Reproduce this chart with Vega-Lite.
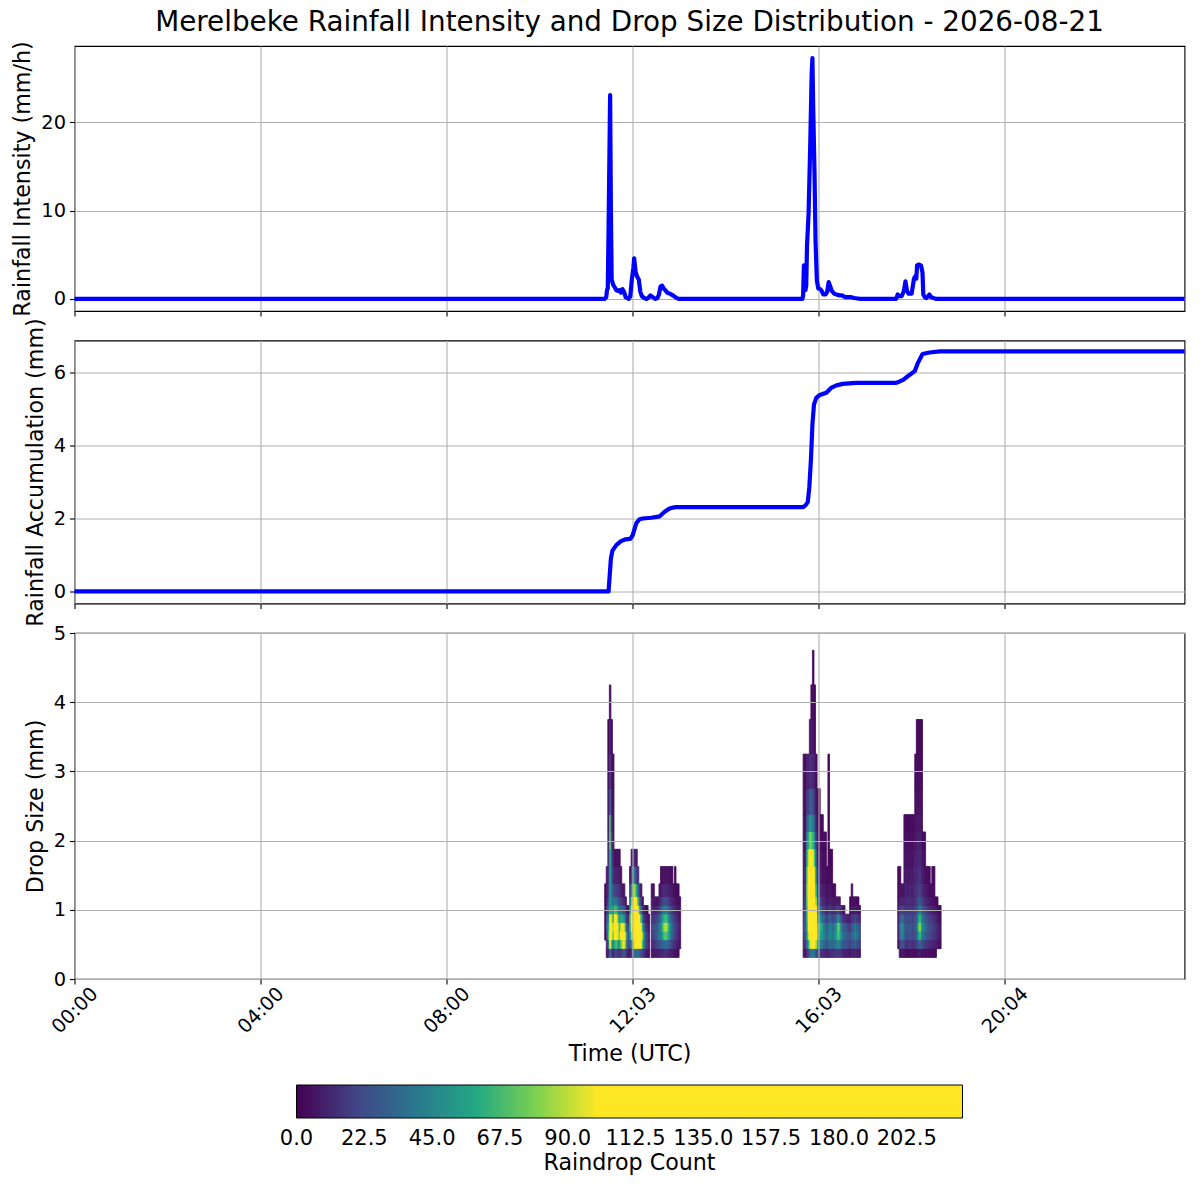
{
  "$schema": "https://vega.github.io/schema/vega-lite/v6.json",
  "padding": {"left": 10.5, "top": 8, "right": 5, "bottom": 5},
  "bounds": "flush",
  "spacing": 29.5,
  "config": {
    "font": "DejaVu Sans",
    "view": {"stroke": "#000000", "strokeWidth": 1.1},
    "axis": {
      "domain": false,
      "grid": true,
      "gridColor": "#b0b0b0",
      "gridWidth": 1.1,
      "tickColor": "#000000",
      "tickSize": 5,
      "tickWidth": 1.1,
      "labelColor": "#000000",
      "labelFontSize": 19.4,
      "labelPadding": 4,
      "titleColor": "#000000",
      "titleFontSize": 22.2,
      "titleFontWeight": "normal",
      "titlePadding": 6
    },
    "legend": {"padding": 0}
  },
  "datasets": {
    "rain": [
      {"t": 0, "r": 0}, {"t": 684, "r": 0}, {"t": 686, "r": 0.2}, {"t": 687, "r": 1.0}, {"t": 688, "r": 1.2},
      {"t": 689, "r": 8}, {"t": 691, "r": 23.1}, {"t": 692, "r": 10}, {"t": 693, "r": 2.2}, {"t": 695, "r": 1.6},
      {"t": 697, "r": 1.3}, {"t": 699, "r": 1.0}, {"t": 701, "r": 0.9}, {"t": 703, "r": 1.0}, {"t": 705, "r": 0.7},
      {"t": 707, "r": 1.1}, {"t": 709, "r": 0.8}, {"t": 711, "r": 0.2}, {"t": 713, "r": 0.1}, {"t": 715, "r": 0},
      {"t": 717, "r": 0.3}, {"t": 719, "r": 2.2}, {"t": 721, "r": 3.5}, {"t": 722, "r": 4.6}, {"t": 724, "r": 3.0},
      {"t": 726, "r": 2.5}, {"t": 728, "r": 2.2}, {"t": 730, "r": 0.8}, {"t": 732, "r": 0.3}, {"t": 735, "r": 0.1},
      {"t": 738, "r": 0}, {"t": 740, "r": 0.1}, {"t": 743, "r": 0.4}, {"t": 746, "r": 0.2}, {"t": 749, "r": 0},
      {"t": 752, "r": 0.1}, {"t": 754, "r": 0.5}, {"t": 756, "r": 1.4}, {"t": 758, "r": 1.5}, {"t": 760, "r": 1.2},
      {"t": 762, "r": 1.0}, {"t": 765, "r": 0.7}, {"t": 768, "r": 0.6}, {"t": 772, "r": 0.4}, {"t": 775, "r": 0.2},
      {"t": 778, "r": 0.05}, {"t": 780, "r": 0}, {"t": 939, "r": 0}, {"t": 940, "r": 0.4}, {"t": 941, "r": 3.8},
      {"t": 942, "r": 3.8}, {"t": 943, "r": 1.0}, {"t": 944, "r": 1.5}, {"t": 945, "r": 6}, {"t": 947, "r": 9.6},
      {"t": 949, "r": 16.8}, {"t": 951, "r": 25.5}, {"t": 952, "r": 27.3}, {"t": 953, "r": 21.7}, {"t": 954.7, "r": 14.2},
      {"t": 956, "r": 6.6}, {"t": 957.7, "r": 2.1}, {"t": 959.5, "r": 1.2}, {"t": 962, "r": 1.1}, {"t": 964, "r": 0.9},
      {"t": 966, "r": 0.5}, {"t": 969, "r": 0.5}, {"t": 971, "r": 0.8}, {"t": 973, "r": 1.9}, {"t": 975, "r": 1.4},
      {"t": 977, "r": 0.9}, {"t": 980, "r": 0.6}, {"t": 983, "r": 0.5}, {"t": 987, "r": 0.4}, {"t": 990, "r": 0.4},
      {"t": 994, "r": 0.2}, {"t": 998, "r": 0.2}, {"t": 1002, "r": 0.2}, {"t": 1006, "r": 0.1}, {"t": 1010, "r": 0.05},
      {"t": 1014, "r": 0}, {"t": 1060, "r": 0}, {"t": 1062, "r": 0.5}, {"t": 1064, "r": 0.3}, {"t": 1067, "r": 0.3},
      {"t": 1070, "r": 0.9}, {"t": 1072, "r": 2.0}, {"t": 1074, "r": 0.9}, {"t": 1076, "r": 0.6}, {"t": 1080, "r": 0.6},
      {"t": 1083, "r": 2.3}, {"t": 1085, "r": 2.6}, {"t": 1086, "r": 2.3}, {"t": 1087, "r": 3.8}, {"t": 1089, "r": 3.9},
      {"t": 1092, "r": 3.8}, {"t": 1094, "r": 3.0}, {"t": 1095, "r": 0.5}, {"t": 1097, "r": 0.2}, {"t": 1099, "r": 0.1},
      {"t": 1101, "r": 0.3}, {"t": 1103, "r": 0.5}, {"t": 1105, "r": 0.2}, {"t": 1108, "r": 0.1}, {"t": 1112, "r": 0},
      {"t": 1432, "r": 0}
    ],
    "acc": [
      {"t": 0, "a": 0}, {"t": 689, "a": 0}, {"t": 690, "a": 0.3}, {"t": 692, "a": 0.9}, {"t": 694, "a": 1.12},
      {"t": 699, "a": 1.27}, {"t": 705, "a": 1.38}, {"t": 711, "a": 1.43}, {"t": 717, "a": 1.44}, {"t": 720, "a": 1.54},
      {"t": 723, "a": 1.75}, {"t": 725, "a": 1.88}, {"t": 729, "a": 1.98}, {"t": 733, "a": 2.0}, {"t": 744, "a": 2.02},
      {"t": 755, "a": 2.06}, {"t": 761, "a": 2.18}, {"t": 767, "a": 2.27}, {"t": 772, "a": 2.3}, {"t": 776, "a": 2.31},
      {"t": 940, "a": 2.31}, {"t": 943, "a": 2.36}, {"t": 946, "a": 2.45}, {"t": 948, "a": 2.86}, {"t": 950, "a": 3.59},
      {"t": 952, "a": 4.58}, {"t": 954, "a": 5.13}, {"t": 957, "a": 5.31}, {"t": 961, "a": 5.38}, {"t": 966, "a": 5.42},
      {"t": 970, "a": 5.45}, {"t": 976, "a": 5.58}, {"t": 983, "a": 5.65}, {"t": 991, "a": 5.69}, {"t": 1008, "a": 5.72},
      {"t": 1060, "a": 5.72}, {"t": 1064, "a": 5.75}, {"t": 1069, "a": 5.8}, {"t": 1075, "a": 5.9}, {"t": 1084, "a": 6.04},
      {"t": 1088, "a": 6.26}, {"t": 1094, "a": 6.51}, {"t": 1103, "a": 6.55}, {"t": 1116, "a": 6.58}, {"t": 1432, "a": 6.58}
    ],
    "classes": [
      {"k": 1, "lo": 0.312, "hi": 0.437}, {"k": 2, "lo": 0.437, "hi": 0.562}, {"k": 3, "lo": 0.562, "hi": 0.687},
      {"k": 4, "lo": 0.687, "hi": 0.812}, {"k": 5, "lo": 0.812, "hi": 0.937}, {"k": 6, "lo": 0.937, "hi": 1.062},
      {"k": 7, "lo": 1.062, "hi": 1.187}, {"k": 8, "lo": 1.187, "hi": 1.375}, {"k": 9, "lo": 1.375, "hi": 1.625},
      {"k": 10, "lo": 1.625, "hi": 1.875}, {"k": 11, "lo": 1.875, "hi": 2.125}, {"k": 12, "lo": 2.125, "hi": 2.375},
      {"k": 13, "lo": 2.375, "hi": 2.75}, {"k": 14, "lo": 2.75, "hi": 3.25}, {"k": 15, "lo": 3.25, "hi": 3.75},
      {"k": 16, "lo": 3.75, "hi": 4.25}, {"k": 17, "lo": 4.25, "hi": 4.75}
    ],
    "dsd": [
      {"t":684,"k":3,"c":3},{"t":684,"k":4,"c":4},{"t":684,"k":5,"c":4},{"t":684,"k":6,"c":3},{"t":684,"k":7,"c":2},{"t":684,"k":8,"c":2},
      {"t":686,"k":1,"c":3},{"t":686,"k":2,"c":8},{"t":686,"k":3,"c":18},{"t":686,"k":4,"c":30},{"t":686,"k":5,"c":25},{"t":686,"k":6,"c":15},{"t":686,"k":7,"c":8},{"t":686,"k":8,"c":5},{"t":686,"k":9,"c":3},
      {"t":688,"k":1,"c":10},{"t":688,"k":2,"c":40},{"t":688,"k":3,"c":70},{"t":688,"k":4,"c":60},{"t":688,"k":5,"c":45},{"t":688,"k":6,"c":35},{"t":688,"k":7,"c":25},{"t":688,"k":8,"c":20},{"t":688,"k":9,"c":15},{"t":688,"k":10,"c":12},{"t":688,"k":11,"c":10},{"t":688,"k":12,"c":8},{"t":688,"k":13,"c":6},{"t":688,"k":14,"c":4},{"t":688,"k":15,"c":3},
      {"t":690,"k":1,"c":30},{"t":690,"k":2,"c":100},{"t":690,"k":3,"c":130},{"t":690,"k":4,"c":120},{"t":690,"k":5,"c":100},{"t":690,"k":6,"c":55},{"t":690,"k":7,"c":50},{"t":690,"k":8,"c":50},{"t":690,"k":9,"c":55},{"t":690,"k":10,"c":60},{"t":690,"k":11,"c":75},{"t":690,"k":12,"c":70},{"t":690,"k":13,"c":30},{"t":690,"k":14,"c":15},{"t":690,"k":15,"c":8},{"t":690,"k":16,"c":3},
      {"t":692,"k":1,"c":20},{"t":692,"k":2,"c":70},{"t":692,"k":3,"c":100},{"t":692,"k":4,"c":110},{"t":692,"k":5,"c":90},{"t":692,"k":6,"c":60},{"t":692,"k":7,"c":45},{"t":692,"k":8,"c":40},{"t":692,"k":9,"c":35},{"t":692,"k":10,"c":30},{"t":692,"k":11,"c":25},{"t":692,"k":12,"c":15},{"t":692,"k":13,"c":10},{"t":692,"k":14,"c":6},{"t":692,"k":15,"c":3},
      {"t":694,"k":1,"c":10},{"t":694,"k":2,"c":45},{"t":694,"k":3,"c":80},{"t":694,"k":4,"c":90},{"t":694,"k":5,"c":70},{"t":694,"k":6,"c":50},{"t":694,"k":7,"c":35},{"t":694,"k":8,"c":25},{"t":694,"k":9,"c":15},{"t":694,"k":10,"c":10},{"t":694,"k":11,"c":6},{"t":694,"k":12,"c":4},{"t":694,"k":13,"c":3},{"t":694,"k":14,"c":2},
      {"t":696,"k":1,"c":15},{"t":696,"k":2,"c":60},{"t":696,"k":3,"c":110},{"t":696,"k":4,"c":130},{"t":696,"k":5,"c":105},{"t":696,"k":6,"c":70},{"t":696,"k":7,"c":40},{"t":696,"k":8,"c":20},{"t":696,"k":9,"c":10},{"t":696,"k":10,"c":4},
      {"t":698,"k":1,"c":20},{"t":698,"k":2,"c":70},{"t":698,"k":3,"c":120},{"t":698,"k":4,"c":140},{"t":698,"k":5,"c":110},{"t":698,"k":6,"c":65},{"t":698,"k":7,"c":35},{"t":698,"k":8,"c":18},{"t":698,"k":9,"c":8},{"t":698,"k":10,"c":4},
      {"t":700,"k":1,"c":15},{"t":700,"k":2,"c":55},{"t":700,"k":3,"c":95},{"t":700,"k":4,"c":105},{"t":700,"k":5,"c":80},{"t":700,"k":6,"c":50},{"t":700,"k":7,"c":30},{"t":700,"k":8,"c":15},{"t":700,"k":9,"c":8},{"t":700,"k":10,"c":3},
      {"t":702,"k":1,"c":12},{"t":702,"k":2,"c":50},{"t":702,"k":3,"c":80},{"t":702,"k":4,"c":70},{"t":702,"k":5,"c":50},{"t":702,"k":6,"c":35},{"t":702,"k":7,"c":20},{"t":702,"k":8,"c":12},{"t":702,"k":9,"c":6},{"t":702,"k":10,"c":3},
      {"t":704,"k":1,"c":15},{"t":704,"k":2,"c":70},{"t":704,"k":3,"c":100},{"t":704,"k":4,"c":90},{"t":704,"k":5,"c":60},{"t":704,"k":6,"c":35},{"t":704,"k":7,"c":18},{"t":704,"k":8,"c":8},{"t":704,"k":9,"c":3},
      {"t":706,"k":1,"c":20},{"t":706,"k":2,"c":90},{"t":706,"k":3,"c":120},{"t":706,"k":4,"c":100},{"t":706,"k":5,"c":60},{"t":706,"k":6,"c":30},{"t":706,"k":7,"c":12},{"t":706,"k":8,"c":5},
      {"t":708,"k":1,"c":25},{"t":708,"k":2,"c":100},{"t":708,"k":3,"c":125},{"t":708,"k":4,"c":95},{"t":708,"k":5,"c":50},{"t":708,"k":6,"c":25},{"t":708,"k":7,"c":10},{"t":708,"k":8,"c":4},
      {"t":710,"k":1,"c":20},{"t":710,"k":2,"c":75},{"t":710,"k":3,"c":90},{"t":710,"k":4,"c":60},{"t":710,"k":5,"c":30},{"t":710,"k":6,"c":15},{"t":710,"k":7,"c":5},
      {"t":712,"k":1,"c":10},{"t":712,"k":2,"c":35},{"t":712,"k":3,"c":40},{"t":712,"k":4,"c":25},{"t":712,"k":5,"c":12},{"t":712,"k":6,"c":5},
      {"t":714,"k":1,"c":5},{"t":714,"k":2,"c":20},{"t":714,"k":3,"c":25},{"t":714,"k":4,"c":18},{"t":714,"k":5,"c":10},{"t":714,"k":6,"c":4},
      {"t":716,"k":1,"c":8},{"t":716,"k":2,"c":30},{"t":716,"k":3,"c":55},{"t":716,"k":4,"c":70},{"t":716,"k":5,"c":75},{"t":716,"k":6,"c":60},{"t":716,"k":7,"c":40},{"t":716,"k":8,"c":20},{"t":716,"k":9,"c":6},
      {"t":718,"k":1,"c":15},{"t":718,"k":2,"c":50},{"t":718,"k":3,"c":85},{"t":718,"k":4,"c":100},{"t":718,"k":5,"c":105},{"t":718,"k":6,"c":95},{"t":718,"k":7,"c":80},{"t":718,"k":8,"c":55},{"t":718,"k":9,"c":25},{"t":718,"k":10,"c":8},
      {"t":720,"k":1,"c":25},{"t":720,"k":2,"c":80},{"t":720,"k":3,"c":120},{"t":720,"k":4,"c":140},{"t":720,"k":5,"c":150},{"t":720,"k":6,"c":140},{"t":720,"k":7,"c":115},{"t":720,"k":8,"c":80},{"t":720,"k":9,"c":40},{"t":720,"k":10,"c":12},
      {"t":722,"k":1,"c":30},{"t":722,"k":2,"c":100},{"t":722,"k":3,"c":160},{"t":722,"k":4,"c":190},{"t":722,"k":5,"c":200},{"t":722,"k":6,"c":170},{"t":722,"k":7,"c":130},{"t":722,"k":8,"c":85},{"t":722,"k":9,"c":35},{"t":722,"k":10,"c":10},
      {"t":724,"k":1,"c":35},{"t":724,"k":2,"c":110},{"t":724,"k":3,"c":180},{"t":724,"k":4,"c":210},{"t":724,"k":5,"c":200},{"t":724,"k":6,"c":150},{"t":724,"k":7,"c":105},{"t":724,"k":8,"c":60},{"t":724,"k":9,"c":20},{"t":724,"k":10,"c":5},
      {"t":726,"k":1,"c":35},{"t":726,"k":2,"c":115},{"t":726,"k":3,"c":175},{"t":726,"k":4,"c":190},{"t":726,"k":5,"c":160},{"t":726,"k":6,"c":110},{"t":726,"k":7,"c":70},{"t":726,"k":8,"c":35},{"t":726,"k":9,"c":10},
      {"t":728,"k":1,"c":30},{"t":728,"k":2,"c":110},{"t":728,"k":3,"c":160},{"t":728,"k":4,"c":150},{"t":728,"k":5,"c":110},{"t":728,"k":6,"c":65},{"t":728,"k":7,"c":35},{"t":728,"k":8,"c":15},
      {"t":730,"k":1,"c":25},{"t":730,"k":2,"c":100},{"t":730,"k":3,"c":130},{"t":730,"k":4,"c":110},{"t":730,"k":5,"c":70},{"t":730,"k":6,"c":35},{"t":730,"k":7,"c":15},{"t":730,"k":8,"c":5},
      {"t":732,"k":1,"c":20},{"t":732,"k":2,"c":70},{"t":732,"k":3,"c":85},{"t":732,"k":4,"c":60},{"t":732,"k":5,"c":35},{"t":732,"k":6,"c":15},{"t":732,"k":7,"c":5},
      {"t":734,"k":1,"c":12},{"t":734,"k":2,"c":40},{"t":734,"k":3,"c":45},{"t":734,"k":4,"c":30},{"t":734,"k":5,"c":15},{"t":734,"k":6,"c":6},
      {"t":736,"k":1,"c":8},{"t":736,"k":2,"c":25},{"t":736,"k":3,"c":25},{"t":736,"k":4,"c":15},{"t":736,"k":5,"c":8},{"t":736,"k":6,"c":3},
      {"t":738,"k":1,"c":5},{"t":738,"k":2,"c":15},{"t":738,"k":3,"c":15},{"t":738,"k":4,"c":10},{"t":738,"k":5,"c":5},{"t":738,"k":6,"c":2},
      {"t":740,"k":1,"c":3},{"t":740,"k":2,"c":8},{"t":740,"k":3,"c":8},{"t":740,"k":4,"c":5},{"t":740,"k":5,"c":3},
      {"t":744,"k":1,"c":4},{"t":744,"k":2,"c":10},{"t":744,"k":3,"c":15},{"t":744,"k":4,"c":18},{"t":744,"k":5,"c":14},{"t":744,"k":6,"c":10},{"t":744,"k":7,"c":6},{"t":744,"k":8,"c":3},
      {"t":746,"k":1,"c":5},{"t":746,"k":2,"c":12},{"t":746,"k":3,"c":18},{"t":746,"k":4,"c":20},{"t":746,"k":5,"c":16},{"t":746,"k":6,"c":10},{"t":746,"k":7,"c":6},{"t":746,"k":8,"c":3},
      {"t":748,"k":1,"c":5},{"t":748,"k":2,"c":14},{"t":748,"k":3,"c":22},{"t":748,"k":4,"c":22},{"t":748,"k":5,"c":15},{"t":748,"k":6,"c":8},{"t":748,"k":7,"c":4},
      {"t":750,"k":1,"c":6},{"t":750,"k":2,"c":18},{"t":750,"k":3,"c":28},{"t":750,"k":4,"c":26},{"t":750,"k":5,"c":18},{"t":750,"k":6,"c":10},{"t":750,"k":7,"c":4},
      {"t":752,"k":1,"c":8},{"t":752,"k":2,"c":22},{"t":752,"k":3,"c":35},{"t":752,"k":4,"c":32},{"t":752,"k":5,"c":22},{"t":752,"k":6,"c":12},{"t":752,"k":7,"c":5},
      {"t":754,"k":1,"c":8},{"t":754,"k":2,"c":25},{"t":754,"k":3,"c":40},{"t":754,"k":4,"c":40},{"t":754,"k":5,"c":30},{"t":754,"k":6,"c":18},{"t":754,"k":7,"c":9},{"t":754,"k":8,"c":4},
      {"t":756,"k":1,"c":10},{"t":756,"k":2,"c":28},{"t":756,"k":3,"c":45},{"t":756,"k":4,"c":50},{"t":756,"k":5,"c":40},{"t":756,"k":6,"c":26},{"t":756,"k":7,"c":14},{"t":756,"k":8,"c":7},{"t":756,"k":9,"c":3},
      {"t":758,"k":1,"c":10},{"t":758,"k":2,"c":30},{"t":758,"k":3,"c":55},{"t":758,"k":4,"c":65},{"t":758,"k":5,"c":50},{"t":758,"k":6,"c":32},{"t":758,"k":7,"c":18},{"t":758,"k":8,"c":9},{"t":758,"k":9,"c":4},
      {"t":760,"k":1,"c":12},{"t":760,"k":2,"c":35},{"t":760,"k":3,"c":70},{"t":760,"k":4,"c":85},{"t":760,"k":5,"c":65},{"t":760,"k":6,"c":40},{"t":760,"k":7,"c":22},{"t":760,"k":8,"c":11},{"t":760,"k":9,"c":4},
      {"t":762,"k":1,"c":12},{"t":762,"k":2,"c":35},{"t":762,"k":3,"c":75},{"t":762,"k":4,"c":90},{"t":762,"k":5,"c":70},{"t":762,"k":6,"c":42},{"t":762,"k":7,"c":22},{"t":762,"k":8,"c":10},{"t":762,"k":9,"c":4},
      {"t":764,"k":1,"c":10},{"t":764,"k":2,"c":32},{"t":764,"k":3,"c":65},{"t":764,"k":4,"c":80},{"t":764,"k":5,"c":60},{"t":764,"k":6,"c":36},{"t":764,"k":7,"c":18},{"t":764,"k":8,"c":9},{"t":764,"k":9,"c":4},
      {"t":766,"k":1,"c":8},{"t":766,"k":2,"c":28},{"t":766,"k":3,"c":55},{"t":766,"k":4,"c":60},{"t":766,"k":5,"c":45},{"t":766,"k":6,"c":28},{"t":766,"k":7,"c":15},{"t":766,"k":8,"c":7},{"t":766,"k":9,"c":3},
      {"t":768,"k":1,"c":7},{"t":768,"k":2,"c":22},{"t":768,"k":3,"c":40},{"t":768,"k":4,"c":45},{"t":768,"k":5,"c":34},{"t":768,"k":6,"c":22},{"t":768,"k":7,"c":12},{"t":768,"k":8,"c":6},{"t":768,"k":9,"c":3},
      {"t":770,"k":1,"c":6},{"t":770,"k":2,"c":18},{"t":770,"k":3,"c":30},{"t":770,"k":4,"c":32},{"t":770,"k":5,"c":25},{"t":770,"k":6,"c":16},{"t":770,"k":7,"c":9},{"t":770,"k":8,"c":5},{"t":770,"k":9,"c":2},
      {"t":772,"k":1,"c":5},{"t":772,"k":2,"c":14},{"t":772,"k":3,"c":22},{"t":772,"k":4,"c":24},{"t":772,"k":5,"c":18},{"t":772,"k":6,"c":12},{"t":772,"k":7,"c":7},{"t":772,"k":8,"c":3},
      {"t":774,"k":1,"c":4},{"t":774,"k":2,"c":12},{"t":774,"k":3,"c":18},{"t":774,"k":4,"c":20},{"t":774,"k":5,"c":16},{"t":774,"k":6,"c":10},{"t":774,"k":7,"c":6},{"t":774,"k":8,"c":3},{"t":774,"k":9,"c":2},
      {"t":776,"k":1,"c":3},{"t":776,"k":2,"c":9},{"t":776,"k":3,"c":14},{"t":776,"k":4,"c":15},{"t":776,"k":5,"c":12},{"t":776,"k":6,"c":8},{"t":776,"k":7,"c":4},{"t":776,"k":8,"c":2},
      {"t":778,"k":1,"c":2},{"t":778,"k":2,"c":6},{"t":778,"k":3,"c":10},{"t":778,"k":4,"c":11},{"t":778,"k":5,"c":8},{"t":778,"k":6,"c":5},{"t":778,"k":7,"c":3},{"t":778,"k":8,"c":2},
      {"t":780,"k":2,"c":3},{"t":780,"k":3,"c":5},{"t":780,"k":4,"c":6},{"t":780,"k":5,"c":4},{"t":780,"k":6,"c":3},{"t":780,"k":7,"c":2},
      {"t":940,"k":1,"c":3},{"t":940,"k":2,"c":8},{"t":940,"k":3,"c":12},{"t":940,"k":4,"c":14},{"t":940,"k":5,"c":12},{"t":940,"k":6,"c":10},{"t":940,"k":7,"c":8},{"t":940,"k":8,"c":6},{"t":940,"k":9,"c":5},{"t":940,"k":10,"c":4},{"t":940,"k":11,"c":3},{"t":940,"k":12,"c":3},{"t":940,"k":13,"c":2},{"t":940,"k":14,"c":2},
      {"t":942,"k":1,"c":6},{"t":942,"k":2,"c":18},{"t":942,"k":3,"c":28},{"t":942,"k":4,"c":30},{"t":942,"k":5,"c":28},{"t":942,"k":6,"c":24},{"t":942,"k":7,"c":20},{"t":942,"k":8,"c":16},{"t":942,"k":9,"c":12},{"t":942,"k":10,"c":9},{"t":942,"k":11,"c":7},{"t":942,"k":12,"c":5},{"t":942,"k":13,"c":4},{"t":942,"k":14,"c":3},
      {"t":944,"k":1,"c":10},{"t":944,"k":2,"c":30},{"t":944,"k":3,"c":45},{"t":944,"k":4,"c":55},{"t":944,"k":5,"c":60},{"t":944,"k":6,"c":65},{"t":944,"k":7,"c":70},{"t":944,"k":8,"c":75},{"t":944,"k":9,"c":70},{"t":944,"k":10,"c":55},{"t":944,"k":11,"c":40},{"t":944,"k":12,"c":25},{"t":944,"k":13,"c":14},{"t":944,"k":14,"c":7},
      {"t":946,"k":1,"c":20},{"t":946,"k":2,"c":60},{"t":946,"k":3,"c":90},{"t":946,"k":4,"c":110},{"t":946,"k":5,"c":125},{"t":946,"k":6,"c":130},{"t":946,"k":7,"c":135},{"t":946,"k":8,"c":130},{"t":946,"k":9,"c":115},{"t":946,"k":10,"c":90},{"t":946,"k":11,"c":60},{"t":946,"k":12,"c":35},{"t":946,"k":13,"c":18},{"t":946,"k":14,"c":8},
      {"t":948,"k":1,"c":30},{"t":948,"k":2,"c":90},{"t":948,"k":3,"c":130},{"t":948,"k":4,"c":160},{"t":948,"k":5,"c":180},{"t":948,"k":6,"c":190},{"t":948,"k":7,"c":190},{"t":948,"k":8,"c":175},{"t":948,"k":9,"c":150},{"t":948,"k":10,"c":115},{"t":948,"k":11,"c":80},{"t":948,"k":12,"c":50},{"t":948,"k":13,"c":28},{"t":948,"k":14,"c":12},{"t":948,"k":15,"c":5},
      {"t":950,"k":1,"c":40},{"t":950,"k":2,"c":110},{"t":950,"k":3,"c":160},{"t":950,"k":4,"c":200},{"t":950,"k":5,"c":215},{"t":950,"k":6,"c":210},{"t":950,"k":7,"c":200},{"t":950,"k":8,"c":180},{"t":950,"k":9,"c":150},{"t":950,"k":10,"c":110},{"t":950,"k":11,"c":75},{"t":950,"k":12,"c":48},{"t":950,"k":13,"c":28},{"t":950,"k":14,"c":12},{"t":950,"k":15,"c":6},{"t":950,"k":16,"c":3},
      {"t":952,"k":1,"c":40},{"t":952,"k":2,"c":120},{"t":952,"k":3,"c":170},{"t":952,"k":4,"c":200},{"t":952,"k":5,"c":210},{"t":952,"k":6,"c":200},{"t":952,"k":7,"c":180},{"t":952,"k":8,"c":160},{"t":952,"k":9,"c":130},{"t":952,"k":10,"c":95},{"t":952,"k":11,"c":65},{"t":952,"k":12,"c":40},{"t":952,"k":13,"c":22},{"t":952,"k":14,"c":10},{"t":952,"k":15,"c":5},{"t":952,"k":16,"c":3},{"t":952,"k":17,"c":2},
      {"t":954,"k":1,"c":35},{"t":954,"k":2,"c":110},{"t":954,"k":3,"c":160},{"t":954,"k":4,"c":180},{"t":954,"k":5,"c":180},{"t":954,"k":6,"c":160},{"t":954,"k":7,"c":140},{"t":954,"k":8,"c":120},{"t":954,"k":9,"c":95},{"t":954,"k":10,"c":70},{"t":954,"k":11,"c":45},{"t":954,"k":12,"c":28},{"t":954,"k":13,"c":15},{"t":954,"k":14,"c":7},{"t":954,"k":15,"c":3},{"t":954,"k":16,"c":2},
      {"t":956,"k":1,"c":25},{"t":956,"k":2,"c":85},{"t":956,"k":3,"c":120},{"t":956,"k":4,"c":130},{"t":956,"k":5,"c":120},{"t":956,"k":6,"c":100},{"t":956,"k":7,"c":80},{"t":956,"k":8,"c":60},{"t":956,"k":9,"c":40},{"t":956,"k":10,"c":25},{"t":956,"k":11,"c":14},{"t":956,"k":12,"c":8},{"t":956,"k":13,"c":4},{"t":956,"k":14,"c":2},
      {"t":958,"k":1,"c":18},{"t":958,"k":2,"c":60},{"t":958,"k":3,"c":80},{"t":958,"k":4,"c":75},{"t":958,"k":5,"c":60},{"t":958,"k":6,"c":45},{"t":958,"k":7,"c":32},{"t":958,"k":8,"c":22},{"t":958,"k":9,"c":14},{"t":958,"k":10,"c":8},{"t":958,"k":11,"c":5},{"t":958,"k":12,"c":3},{"t":958,"k":13,"c":2},
      {"t":960,"k":1,"c":15},{"t":960,"k":2,"c":45},{"t":960,"k":3,"c":60},{"t":960,"k":4,"c":62},{"t":960,"k":5,"c":50},{"t":960,"k":6,"c":35},{"t":960,"k":7,"c":22},{"t":960,"k":8,"c":14},{"t":960,"k":9,"c":8},{"t":960,"k":10,"c":5},{"t":960,"k":11,"c":3},{"t":960,"k":12,"c":2},{"t":960,"k":13,"c":2},
      {"t":962,"k":1,"c":12},{"t":962,"k":2,"c":40},{"t":962,"k":3,"c":55},{"t":962,"k":4,"c":65},{"t":962,"k":5,"c":45},{"t":962,"k":6,"c":28},{"t":962,"k":7,"c":16},{"t":962,"k":8,"c":10},{"t":962,"k":9,"c":6},{"t":962,"k":10,"c":4},{"t":962,"k":11,"c":2},{"t":962,"k":12,"c":2},
      {"t":964,"k":1,"c":12},{"t":964,"k":2,"c":38},{"t":964,"k":3,"c":52},{"t":964,"k":4,"c":55},{"t":964,"k":5,"c":38},{"t":964,"k":6,"c":22},{"t":964,"k":7,"c":12},{"t":964,"k":8,"c":8},{"t":964,"k":9,"c":4},{"t":964,"k":10,"c":3},{"t":964,"k":11,"c":2},{"t":964,"k":12,"c":2},
      {"t":966,"k":1,"c":10},{"t":966,"k":2,"c":32},{"t":966,"k":3,"c":42},{"t":966,"k":4,"c":40},{"t":966,"k":5,"c":28},{"t":966,"k":6,"c":16},{"t":966,"k":7,"c":9},{"t":966,"k":8,"c":5},{"t":966,"k":9,"c":3},{"t":966,"k":10,"c":2},{"t":966,"k":11,"c":2},
      {"t":968,"k":1,"c":9},{"t":968,"k":2,"c":28},{"t":968,"k":3,"c":38},{"t":968,"k":4,"c":35},{"t":968,"k":5,"c":24},{"t":968,"k":6,"c":14},{"t":968,"k":7,"c":8},{"t":968,"k":8,"c":5},{"t":968,"k":9,"c":3},{"t":968,"k":10,"c":2},{"t":968,"k":11,"c":2},
      {"t":970,"k":1,"c":8},{"t":970,"k":2,"c":24},{"t":970,"k":3,"c":30},{"t":970,"k":4,"c":26},{"t":970,"k":5,"c":16},{"t":970,"k":6,"c":9},{"t":970,"k":7,"c":5},{"t":970,"k":8,"c":3},{"t":970,"k":9,"c":2},
      {"t":972,"k":1,"c":10},{"t":972,"k":2,"c":30},{"t":972,"k":3,"c":40},{"t":972,"k":4,"c":38},{"t":972,"k":5,"c":26},{"t":972,"k":6,"c":15},{"t":972,"k":7,"c":8},{"t":972,"k":8,"c":5},{"t":972,"k":9,"c":3},{"t":972,"k":10,"c":2},{"t":972,"k":11,"c":2},{"t":972,"k":12,"c":2},{"t":972,"k":13,"c":1},{"t":972,"k":14,"c":1},
      {"t":974,"k":1,"c":12},{"t":974,"k":2,"c":35},{"t":974,"k":3,"c":45},{"t":974,"k":4,"c":42},{"t":974,"k":5,"c":28},{"t":974,"k":6,"c":15},{"t":974,"k":7,"c":8},{"t":974,"k":8,"c":5},{"t":974,"k":9,"c":3},{"t":974,"k":10,"c":2},
      {"t":976,"k":1,"c":12},{"t":976,"k":2,"c":34},{"t":976,"k":3,"c":42},{"t":976,"k":4,"c":38},{"t":976,"k":5,"c":24},{"t":976,"k":6,"c":12},{"t":976,"k":7,"c":6},{"t":976,"k":8,"c":3},{"t":976,"k":9,"c":2},{"t":976,"k":10,"c":1},
      {"t":978,"k":1,"c":12},{"t":978,"k":2,"c":32},{"t":978,"k":3,"c":40},{"t":978,"k":4,"c":34},{"t":978,"k":5,"c":20},{"t":978,"k":6,"c":10},{"t":978,"k":7,"c":5},{"t":978,"k":8,"c":2},
      {"t":980,"k":1,"c":12},{"t":980,"k":2,"c":35},{"t":980,"k":3,"c":45},{"t":980,"k":4,"c":40},{"t":980,"k":5,"c":25},{"t":980,"k":6,"c":12},{"t":980,"k":7,"c":5},{"t":980,"k":8,"c":2},
      {"t":982,"k":1,"c":14},{"t":982,"k":2,"c":40},{"t":982,"k":3,"c":55},{"t":982,"k":4,"c":50},{"t":982,"k":5,"c":30},{"t":982,"k":6,"c":14},{"t":982,"k":7,"c":5},
      {"t":984,"k":1,"c":15},{"t":984,"k":2,"c":45},{"t":984,"k":3,"c":70},{"t":984,"k":4,"c":75},{"t":984,"k":5,"c":45},{"t":984,"k":6,"c":18},{"t":984,"k":7,"c":6},
      {"t":986,"k":1,"c":14},{"t":986,"k":2,"c":42},{"t":986,"k":3,"c":65},{"t":986,"k":4,"c":70},{"t":986,"k":5,"c":40},{"t":986,"k":6,"c":15},{"t":986,"k":7,"c":5},
      {"t":988,"k":1,"c":12},{"t":988,"k":2,"c":35},{"t":988,"k":3,"c":50},{"t":988,"k":4,"c":45},{"t":988,"k":5,"c":25},{"t":988,"k":6,"c":10},
      {"t":990,"k":1,"c":10},{"t":990,"k":2,"c":28},{"t":990,"k":3,"c":38},{"t":990,"k":4,"c":32},{"t":990,"k":5,"c":16},{"t":990,"k":6,"c":6},
      {"t":992,"k":1,"c":9},{"t":992,"k":2,"c":25},{"t":992,"k":3,"c":32},{"t":992,"k":4,"c":26},{"t":992,"k":5,"c":12},{"t":992,"k":6,"c":4},
      {"t":994,"k":1,"c":9},{"t":994,"k":2,"c":26},{"t":994,"k":3,"c":34},{"t":994,"k":4,"c":28},{"t":994,"k":5,"c":12},
      {"t":996,"k":1,"c":8},{"t":996,"k":2,"c":22},{"t":996,"k":3,"c":28},{"t":996,"k":4,"c":20},{"t":996,"k":5,"c":8},
      {"t":998,"k":1,"c":7},{"t":998,"k":2,"c":20},{"t":998,"k":3,"c":24},{"t":998,"k":4,"c":16},{"t":998,"k":5,"c":6},
      {"t":1000,"k":1,"c":6},{"t":1000,"k":2,"c":18},{"t":1000,"k":3,"c":22},{"t":1000,"k":4,"c":16},{"t":1000,"k":5,"c":8},{"t":1000,"k":6,"c":4},{"t":1000,"k":7,"c":2},
      {"t":1002,"k":1,"c":8},{"t":1002,"k":2,"c":24},{"t":1002,"k":3,"c":30},{"t":1002,"k":4,"c":26},{"t":1002,"k":5,"c":14},{"t":1002,"k":6,"c":6},{"t":1002,"k":7,"c":3},{"t":1002,"k":8,"c":2},
      {"t":1004,"k":1,"c":8},{"t":1004,"k":2,"c":25},{"t":1004,"k":3,"c":35},{"t":1004,"k":4,"c":30},{"t":1004,"k":5,"c":15},{"t":1004,"k":6,"c":6},{"t":1004,"k":7,"c":3},
      {"t":1006,"k":1,"c":9},{"t":1006,"k":2,"c":28},{"t":1006,"k":3,"c":42},{"t":1006,"k":4,"c":38},{"t":1006,"k":5,"c":18},{"t":1006,"k":6,"c":7},{"t":1006,"k":7,"c":3},
      {"t":1008,"k":1,"c":8},{"t":1008,"k":2,"c":25},{"t":1008,"k":3,"c":38},{"t":1008,"k":4,"c":34},{"t":1008,"k":5,"c":16},{"t":1008,"k":6,"c":6},{"t":1008,"k":7,"c":2},
      {"t":1010,"k":1,"c":7},{"t":1010,"k":2,"c":22},{"t":1010,"k":3,"c":34},{"t":1010,"k":4,"c":30},{"t":1010,"k":5,"c":14},{"t":1010,"k":6,"c":5},{"t":1010,"k":7,"c":2},
      {"t":1012,"k":1,"c":5},{"t":1012,"k":2,"c":16},{"t":1012,"k":3,"c":25},{"t":1012,"k":4,"c":22},{"t":1012,"k":5,"c":10},{"t":1012,"k":6,"c":4},
      {"t":1062,"k":2,"c":4},{"t":1062,"k":3,"c":8},{"t":1062,"k":4,"c":10},{"t":1062,"k":5,"c":8},{"t":1062,"k":6,"c":6},{"t":1062,"k":7,"c":4},{"t":1062,"k":8,"c":3},{"t":1062,"k":9,"c":2},
      {"t":1064,"k":1,"c":3},{"t":1064,"k":2,"c":15},{"t":1064,"k":3,"c":30},{"t":1064,"k":4,"c":35},{"t":1064,"k":5,"c":25},{"t":1064,"k":6,"c":15},{"t":1064,"k":7,"c":8},{"t":1064,"k":8,"c":4},{"t":1064,"k":9,"c":2},
      {"t":1066,"k":1,"c":5},{"t":1066,"k":2,"c":25},{"t":1066,"k":3,"c":45},{"t":1066,"k":4,"c":50},{"t":1066,"k":5,"c":35},{"t":1066,"k":6,"c":20},{"t":1066,"k":7,"c":10},{"t":1066,"k":8,"c":4},
      {"t":1068,"k":1,"c":5},{"t":1068,"k":2,"c":22},{"t":1068,"k":3,"c":40},{"t":1068,"k":4,"c":42},{"t":1068,"k":5,"c":30},{"t":1068,"k":6,"c":18},{"t":1068,"k":7,"c":9},{"t":1068,"k":8,"c":4},
      {"t":1070,"k":1,"c":4},{"t":1070,"k":2,"c":18},{"t":1070,"k":3,"c":30},{"t":1070,"k":4,"c":30},{"t":1070,"k":5,"c":24},{"t":1070,"k":6,"c":16},{"t":1070,"k":7,"c":10},{"t":1070,"k":8,"c":7},{"t":1070,"k":9,"c":5},{"t":1070,"k":10,"c":4},{"t":1070,"k":11,"c":3},{"t":1070,"k":12,"c":2},
      {"t":1072,"k":1,"c":3},{"t":1072,"k":2,"c":14},{"t":1072,"k":3,"c":24},{"t":1072,"k":4,"c":26},{"t":1072,"k":5,"c":22},{"t":1072,"k":6,"c":16},{"t":1072,"k":7,"c":12},{"t":1072,"k":8,"c":9},{"t":1072,"k":9,"c":7},{"t":1072,"k":10,"c":5},{"t":1072,"k":11,"c":4},{"t":1072,"k":12,"c":3},
      {"t":1074,"k":1,"c":3},{"t":1074,"k":2,"c":14},{"t":1074,"k":3,"c":22},{"t":1074,"k":4,"c":24},{"t":1074,"k":5,"c":20},{"t":1074,"k":6,"c":15},{"t":1074,"k":7,"c":11},{"t":1074,"k":8,"c":8},{"t":1074,"k":9,"c":6},{"t":1074,"k":10,"c":5},{"t":1074,"k":11,"c":3},{"t":1074,"k":12,"c":2},
      {"t":1076,"k":1,"c":3},{"t":1076,"k":2,"c":15},{"t":1076,"k":3,"c":24},{"t":1076,"k":4,"c":26},{"t":1076,"k":5,"c":22},{"t":1076,"k":6,"c":16},{"t":1076,"k":7,"c":12},{"t":1076,"k":8,"c":9},{"t":1076,"k":9,"c":6},{"t":1076,"k":10,"c":4},{"t":1076,"k":11,"c":3},{"t":1076,"k":12,"c":2},
      {"t":1078,"k":1,"c":3},{"t":1078,"k":2,"c":14},{"t":1078,"k":3,"c":22},{"t":1078,"k":4,"c":24},{"t":1078,"k":5,"c":20},{"t":1078,"k":6,"c":15},{"t":1078,"k":7,"c":11},{"t":1078,"k":8,"c":8},{"t":1078,"k":9,"c":6},{"t":1078,"k":10,"c":4},{"t":1078,"k":11,"c":3},{"t":1078,"k":12,"c":2},
      {"t":1080,"k":1,"c":3},{"t":1080,"k":2,"c":12},{"t":1080,"k":3,"c":20},{"t":1080,"k":4,"c":22},{"t":1080,"k":5,"c":18},{"t":1080,"k":6,"c":14},{"t":1080,"k":7,"c":10},{"t":1080,"k":8,"c":8},{"t":1080,"k":9,"c":6},{"t":1080,"k":10,"c":4},{"t":1080,"k":11,"c":3},{"t":1080,"k":12,"c":2},
      {"t":1082,"k":1,"c":2},{"t":1082,"k":2,"c":12},{"t":1082,"k":3,"c":20},{"t":1082,"k":4,"c":22},{"t":1082,"k":5,"c":20},{"t":1082,"k":6,"c":15},{"t":1082,"k":7,"c":11},{"t":1082,"k":8,"c":9},{"t":1082,"k":9,"c":7},{"t":1082,"k":10,"c":5},{"t":1082,"k":11,"c":3},{"t":1082,"k":12,"c":2},
      {"t":1084,"k":1,"c":3},{"t":1084,"k":2,"c":15},{"t":1084,"k":3,"c":25},{"t":1084,"k":4,"c":28},{"t":1084,"k":5,"c":24},{"t":1084,"k":6,"c":18},{"t":1084,"k":7,"c":14},{"t":1084,"k":8,"c":12},{"t":1084,"k":9,"c":10},{"t":1084,"k":10,"c":8},{"t":1084,"k":11,"c":6},{"t":1084,"k":12,"c":4},{"t":1084,"k":13,"c":3},{"t":1084,"k":14,"c":2},
      {"t":1086,"k":1,"c":3},{"t":1086,"k":2,"c":18},{"t":1086,"k":3,"c":32},{"t":1086,"k":4,"c":36},{"t":1086,"k":5,"c":30},{"t":1086,"k":6,"c":22},{"t":1086,"k":7,"c":16},{"t":1086,"k":8,"c":13},{"t":1086,"k":9,"c":10},{"t":1086,"k":10,"c":8},{"t":1086,"k":11,"c":6},{"t":1086,"k":12,"c":4},{"t":1086,"k":13,"c":3},{"t":1086,"k":14,"c":2},{"t":1086,"k":15,"c":1},
      {"t":1088,"k":1,"c":5},{"t":1088,"k":2,"c":25},{"t":1088,"k":3,"c":55},{"t":1088,"k":4,"c":70},{"t":1088,"k":5,"c":55},{"t":1088,"k":6,"c":38},{"t":1088,"k":7,"c":25},{"t":1088,"k":8,"c":18},{"t":1088,"k":9,"c":14},{"t":1088,"k":10,"c":10},{"t":1088,"k":11,"c":8},{"t":1088,"k":12,"c":6},{"t":1088,"k":13,"c":4},{"t":1088,"k":14,"c":3},{"t":1088,"k":15,"c":2},
      {"t":1090,"k":1,"c":6},{"t":1090,"k":2,"c":30},{"t":1090,"k":3,"c":65},{"t":1090,"k":4,"c":82},{"t":1090,"k":5,"c":65},{"t":1090,"k":6,"c":40},{"t":1090,"k":7,"c":26},{"t":1090,"k":8,"c":18},{"t":1090,"k":9,"c":13},{"t":1090,"k":10,"c":10},{"t":1090,"k":11,"c":8},{"t":1090,"k":12,"c":6},{"t":1090,"k":13,"c":4},{"t":1090,"k":14,"c":3},{"t":1090,"k":15,"c":2},
      {"t":1092,"k":1,"c":5},{"t":1092,"k":2,"c":25},{"t":1092,"k":3,"c":45},{"t":1092,"k":4,"c":55},{"t":1092,"k":5,"c":45},{"t":1092,"k":6,"c":30},{"t":1092,"k":7,"c":20},{"t":1092,"k":8,"c":14},{"t":1092,"k":9,"c":10},{"t":1092,"k":10,"c":8},{"t":1092,"k":11,"c":6},{"t":1092,"k":12,"c":4},{"t":1092,"k":13,"c":3},{"t":1092,"k":14,"c":2},{"t":1092,"k":15,"c":1},
      {"t":1094,"k":1,"c":4},{"t":1094,"k":2,"c":20},{"t":1094,"k":3,"c":38},{"t":1094,"k":4,"c":45},{"t":1094,"k":5,"c":38},{"t":1094,"k":6,"c":26},{"t":1094,"k":7,"c":16},{"t":1094,"k":8,"c":10},{"t":1094,"k":9,"c":6},{"t":1094,"k":10,"c":4},{"t":1094,"k":11,"c":2},
      {"t":1096,"k":1,"c":4},{"t":1096,"k":2,"c":18},{"t":1096,"k":3,"c":32},{"t":1096,"k":4,"c":38},{"t":1096,"k":5,"c":30},{"t":1096,"k":6,"c":20},{"t":1096,"k":7,"c":12},{"t":1096,"k":8,"c":7},{"t":1096,"k":9,"c":4},{"t":1096,"k":10,"c":3},{"t":1096,"k":11,"c":2},
      {"t":1098,"k":1,"c":3},{"t":1098,"k":2,"c":14},{"t":1098,"k":3,"c":26},{"t":1098,"k":4,"c":30},{"t":1098,"k":5,"c":24},{"t":1098,"k":6,"c":15},{"t":1098,"k":7,"c":9},{"t":1098,"k":8,"c":5},{"t":1098,"k":9,"c":2},
      {"t":1100,"k":1,"c":3},{"t":1100,"k":2,"c":12},{"t":1100,"k":3,"c":22},{"t":1100,"k":4,"c":25},{"t":1100,"k":5,"c":20},{"t":1100,"k":6,"c":12},{"t":1100,"k":7,"c":7},{"t":1100,"k":8,"c":4},{"t":1100,"k":9,"c":2},
      {"t":1102,"k":1,"c":3},{"t":1102,"k":2,"c":11},{"t":1102,"k":3,"c":20},{"t":1102,"k":4,"c":22},{"t":1102,"k":5,"c":18},{"t":1102,"k":6,"c":11},{"t":1102,"k":7,"c":6},{"t":1102,"k":8,"c":3},{"t":1102,"k":9,"c":2},
      {"t":1104,"k":1,"c":2},{"t":1104,"k":2,"c":10},{"t":1104,"k":3,"c":18},{"t":1104,"k":4,"c":20},{"t":1104,"k":5,"c":15},{"t":1104,"k":6,"c":9},{"t":1104,"k":7,"c":5},{"t":1104,"k":8,"c":2},
      {"t":1106,"k":1,"c":2},{"t":1106,"k":2,"c":9},{"t":1106,"k":3,"c":16},{"t":1106,"k":4,"c":18},{"t":1106,"k":5,"c":14},{"t":1106,"k":6,"c":8},{"t":1106,"k":7,"c":4},{"t":1106,"k":8,"c":3},{"t":1106,"k":9,"c":2},
      {"t":1108,"k":1,"c":2},{"t":1108,"k":2,"c":8},{"t":1108,"k":3,"c":14},{"t":1108,"k":4,"c":16},{"t":1108,"k":5,"c":12},{"t":1108,"k":6,"c":7},{"t":1108,"k":7,"c":4},{"t":1108,"k":8,"c":2},{"t":1108,"k":9,"c":1},
      {"t":1110,"k":1,"c":2},{"t":1110,"k":2,"c":7},{"t":1110,"k":3,"c":12},{"t":1110,"k":4,"c":13},{"t":1110,"k":5,"c":9},{"t":1110,"k":6,"c":5},{"t":1110,"k":7,"c":2},
      {"t":1112,"k":2,"c":6},{"t":1112,"k":3,"c":10},{"t":1112,"k":4,"c":11},{"t":1112,"k":5,"c":8},{"t":1112,"k":6,"c":4},{"t":1112,"k":7,"c":2},
      {"t":1114,"k":2,"c":5},{"t":1114,"k":3,"c":8},{"t":1114,"k":4,"c":8},{"t":1114,"k":5,"c":5},{"t":1114,"k":6,"c":3},
      {"t":1116,"k":2,"c":3},{"t":1116,"k":3,"c":5},{"t":1116,"k":4,"c":5},{"t":1116,"k":5,"c":3},{"t":1116,"k":6,"c":2}
    ]
  },
  "vconcat": [
    {
      "width": 1110,
      "height": 265,
      "title": {
        "text": "Merelbeke Rainfall Intensity and Drop Size Distribution - 2026-08-21",
        "fontSize": 27.8,
        "fontWeight": "normal",
        "color": "#000000",
        "anchor": "middle",
        "frame": "group",
        "offset": 4
      },
      "data": {"name": "rain"},
      "mark": {"type": "line", "color": "#0000ff", "strokeWidth": 4.2, "strokeJoin": "round"},
      "encoding": {
        "x": {
          "field": "t", "type": "quantitative",
          "scale": {"domain": [0, 1432], "nice": false, "zero": false},
          "axis": {"values": [0, 240, 480, 720, 960, 1200], "labels": false, "title": null}
        },
        "y": {
          "field": "r", "type": "quantitative",
          "scale": {"domain": [-1.37, 28.67], "nice": false, "zero": false},
          "axis": {"values": [0, 10, 20], "title": "Rainfall Intensity (mm/h)"}
        }
      }
    },
    {
      "width": 1110,
      "height": 263,
      "data": {"name": "acc"},
      "mark": {"type": "line", "color": "#0000ff", "strokeWidth": 4.2, "strokeJoin": "round"},
      "encoding": {
        "x": {
          "field": "t", "type": "quantitative",
          "scale": {"domain": [0, 1432], "nice": false, "zero": false},
          "axis": {"values": [0, 240, 480, 720, 960, 1200], "labels": false, "title": null}
        },
        "y": {
          "field": "a", "type": "quantitative",
          "scale": {"domain": [-0.33, 6.88], "nice": false, "zero": false},
          "axis": {"values": [0, 2, 4, 6], "title": "Rainfall Accumulation (mm)"}
        }
      }
    },
    {
      "width": 1110,
      "height": 346,
      "data": {"name": "dsd"},
      "transform": [
        {"lookup": "k", "from": {"data": {"name": "classes"}, "key": "k", "fields": ["lo", "hi"]}},
        {"bin": {"step": 2, "extent": [0, 1432]}, "field": "t", "as": ["t0", "t1"]}
      ],
      "encoding": {
        "x": {
          "field": "t0", "type": "quantitative",
          "scale": {"domain": [0, 1432], "nice": false, "zero": false},
          "axis": {
            "values": [0, 240, 480, 720, 960, 1200],
            "labelExpr": "datum.value == 0 ? '00:00' : datum.value == 240 ? '04:00' : datum.value == 480 ? '08:00' : datum.value == 720 ? '12:03' : datum.value == 960 ? '16:03' : '20:04'",
            "labelAngle": -45,
            "labelAlign": "center",
            "labelBaseline": "middle",
            "labelPadding": 26,
            "labelFlush": false,
            "labelOverlap": false,
            "title": "Time (UTC)",
            "titlePadding": 6,
            "zindex": 1
          }
        },
        "x2": {"field": "t1"},
        "y": {
          "field": "lo", "type": "quantitative",
          "scale": {"domain": [0, 5], "nice": false, "zero": false},
          "axis": {"values": [0, 1, 2, 3, 4, 5], "title": "Drop Size (mm)", "zindex": 1}
        },
        "y2": {"field": "hi"}
      },
      "layer": [
        {
          "mark": {"type": "rect", "filled": false, "strokeWidth": 0.8},
          "encoding": {
            "stroke": {
              "field": "c", "type": "quantitative",
              "scale": {
                "domain": [0, 9.9, 19.8, 29.7, 39.6, 49.5, 59.4, 69.3, 79.2, 89.1, 99, 230],
                "range": ["#440154", "#482475", "#414487", "#355f8d", "#2a788e", "#21918c", "#22a884", "#44bf70", "#7ad151", "#bddf26", "#fde725", "#fde725"],
                "clamp": true
              },
              "legend": null
            }
          }
        },
        {
          "mark": {"type": "rect"},
          "encoding": {
            "color": {
              "field": "c", "type": "quantitative",
              "scale": {
                "domain": [0, 9.9, 19.8, 29.7, 39.6, 49.5, 59.4, 69.3, 79.2, 89.1, 99, 221],
                "range": ["#440154", "#482475", "#414487", "#355f8d", "#2a788e", "#21918c", "#22a884", "#44bf70", "#7ad151", "#bddf26", "#fde725", "#fde725"],
                "clamp": true
              },
              "legend": {
                "type": "gradient",
                "orient": "none",
                "legendX": 222,
                "legendY": 1039,
                "direction": "horizontal",
                "gradientLength": 666,
                "gradientThickness": 33,
                "gradientStrokeColor": "#000000",
                "gradientStrokeWidth": 1,
                "values": [0.001, 22.5, 45, 67.5, 90, 112.5, 135, 157.5, 180, 202.5],
                "format": ".1f",
                "labelAlign": "center",
                "labelFontSize": 21,
                "labelColor": "#000000",
                "labelOffset": 10,
                "title": "Raindrop Count",
                "titleOrient": "bottom",
                "titleAnchor": "middle",
                "titleFontSize": 22.2,
                "titleFontWeight": "normal",
                "titleColor": "#000000",
                "titlePadding": 3
              }
            }
          }
        }
      ]
    }
  ]
}
